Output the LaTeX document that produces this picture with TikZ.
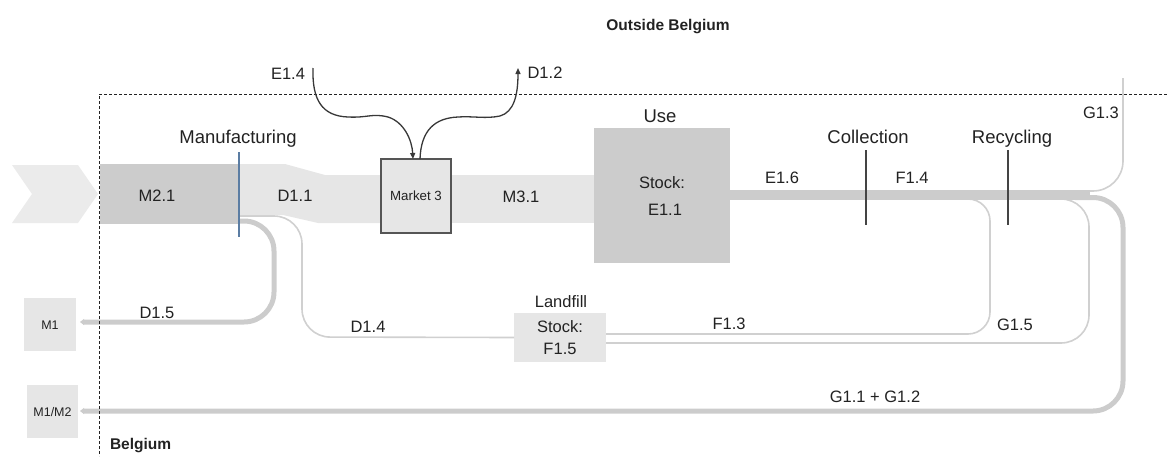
\documentclass[tikz,border=0pt]{standalone}
\usepackage{fontspec}
\setmainfont{Liberation Sans}
\usetikzlibrary{arrows.meta,calc}
\definecolor{flowdark}{HTML}{CCCCCC}
\definecolor{flowlight}{HTML}{E6E6E6}
\definecolor{chev}{HTML}{EBEBEB}
\definecolor{thinflow}{HTML}{D0D0D0}
\definecolor{ink}{HTML}{222222}
\definecolor{divider}{HTML}{444444}
\definecolor{boxline}{HTML}{555555}
\definecolor{mfgline}{HTML}{5B7DA3}
\begin{document}
\begin{tikzpicture}[x=1pt,y=-1pt,
  every node/.style={inner sep=0pt,outer sep=0pt},
  lbl/.style={font=\fontsize{16.5}{19}\selectfont,text=ink,text height=11.8pt,text depth=0pt},
  stage/.style={font=\fontsize{18.5}{22}\selectfont,text=ink,text height=13.2pt,text depth=0pt},
  region/.style={font=\bfseries\fontsize{15.5}{18}\selectfont,text=ink,text height=11.1pt,text depth=0pt},
  boxtext/.style={font=\fontsize{12.5}{15}\selectfont,text=ink,text height=9pt,text depth=0pt},
  thickflow/.style={draw=flowdark,line width=5pt,rounded corners=30pt},
  thinflow/.style={draw=thinflow,line width=1.6pt,rounded corners=28pt},
  tradeflow/.style={draw=ink!90,line width=1.3pt,-{Triangle[length=6pt,width=5pt]}},
  divline/.style={draw=divider,line width=1.6pt},
  frame/.style={draw=ink,line width=0.8pt,dash pattern=on 3pt off 2pt},
  exittip/.style={-{Triangle[length=4pt,width=6pt]}}
]
\useasboundingbox (0,0) rectangle (1167,456);

% ---------- boxes ----------
\node[fill=flowdark,minimum width=139pt,minimum height=60pt] (mfg) at (169.5,194) {};
\node[fill=flowdark,minimum width=136pt,minimum height=135pt] (use) at (661.5,195.5) {};
\node[fill=flowlight,minimum width=92pt,minimum height=49pt] (landfill) at (560,337.5) {};
\node[fill=flowlight,minimum width=52pt,minimum height=53pt] (m1) at (50,324.5) {};
\node[fill=flowlight,minimum width=51pt,minimum height=53pt] (m1m2) at (52.5,411.5) {};

% ---------- named way points of the flows ----------
\coordinate (d15start) at (239,221);
\coordinate (d15end) at (80,322);
\coordinate (d14start) at (239,216);
\coordinate (g13start) at (1070,191);
\coordinate (g13top) at (1123,78);
\coordinate (loopstart) at (1075,197.5);
\coordinate (loopend) at (80,411);
\coordinate (f13start) at (945,199);
\coordinate (g15start) at (1035,199);

% ---------- thin and thick return flows ----------
\draw[thinflow] (d14start) -- (302,216) -- (302,337) -- (landfill.west);
\draw[thinflow,rounded corners=22pt] (f13start) -- (990,199) -- (990,334) -- ($(landfill.east)+(0,-3.5)$);
\draw[thinflow] (g15start) -- (1089,199) -- (1089,343) -- ($(landfill.east)+(0,5.5)$);
\draw[thinflow,rounded corners=30pt] (g13start) -- (1123,191) -- (g13top);
\draw[thickflow,exittip] (d15start) -- (274,221) -- (274,322) -- (d15end);
\draw[thickflow,exittip] (loopstart) -- (1123,197.5) -- (1123,411) -- (loopend);

% ---------- main product chain ----------
\fill[chev] (12,165) -- (78,165) -- (98,194) -- (78,223) -- (12,223) -- (32,194) -- cycle;
\fill[flowlight] (mfg.north east) -- (285,164) -- (325,175) -- (381,175)
  -- (381,223) -- (318,223) -- (283,215) -- (239,215) -- cycle;
\fill[flowlight] (450,175) rectangle (use.west |- 0,223);
\fill[flowdark] (use.east |- 0,190) rectangle (1090,200);
\node[fill=flowlight,draw=boxline,line width=1.8pt,minimum width=70pt,minimum height=74pt] (market) at (416,196) {};

% ---------- border between Belgium and outside ----------
\draw[frame] (1167,94) -- (99,94) -- (99,456);

% ---------- trade in and out of the market ----------
\coordinate (e14) at (313,68);
\coordinate (d12) at (518,68);
\draw[tradeflow] (e14) .. controls (312,100) and (322,116) .. (348,117)
  .. controls (368,118) and (372,113) .. (388,117)
  .. controls (404,122) and (412,140) .. ($(market.north)+(-3,0)$);
\draw[tradeflow] ($(market.north)+(4,0)$) .. controls (421,130) and (435,118) .. (458,117)
  .. controls (475,116) and (485,119) .. (500,116)
  .. controls (514,112) and (518,95) .. (d12);

% ---------- process dividers ----------
\draw[mfgline,line width=1.5pt] (239,152) -- (239,237);
\draw[divline] (866,150) -- (866,225);
\draw[divline] (1008,150) -- (1008,225);

% ---------- texts ----------
\node[region] at (668,25) {Outside Belgium};
\node[region,anchor=west] at (110,444) {Belgium};
\node[lbl] at (288,74) {E1.4};
\node[lbl] at (545,73) {D1.2};
\node[stage] at (238,137) {Manufacturing};
\node[stage] at (660,116) {Use};
\node[stage] at (868,137) {Collection};
\node[stage] at (1012,137) {Recycling};
\node[lbl] at (1101,113) {G1.3};
\node[lbl] at (157,196) {M2.1};
\node[lbl] at (295,196) {D1.1};
\node[font=\fontsize{13.3}{16}\selectfont,text=ink,text height=9.5pt,text depth=0pt] at (market) {Market 3};
\node[lbl] at (521,197) {M3.1};
\node[lbl] at (662,183) {Stock:};
\node[lbl] at (665,210) {E1.1};
\node[lbl] at (782,178) {E1.6};
\node[lbl] at (912,178) {F1.4};
\node[lbl] at (157,313) {D1.5};
\node[lbl] at (368,327) {D1.4};
\node[lbl] at (561,302) {Landfill};
\node[lbl] at (560,327) {Stock:};
\node[lbl] at (560,349) {F1.5};
\node[lbl] at (729,324) {F1.3};
\node[lbl] at (1015,325) {G1.5};
\node[lbl] at (875,397) {G1.1 + G1.2};
\node[boxtext] at (m1) {M1};
\node[boxtext] at (m1m2) {M1/M2};
\end{tikzpicture}
\end{document}
